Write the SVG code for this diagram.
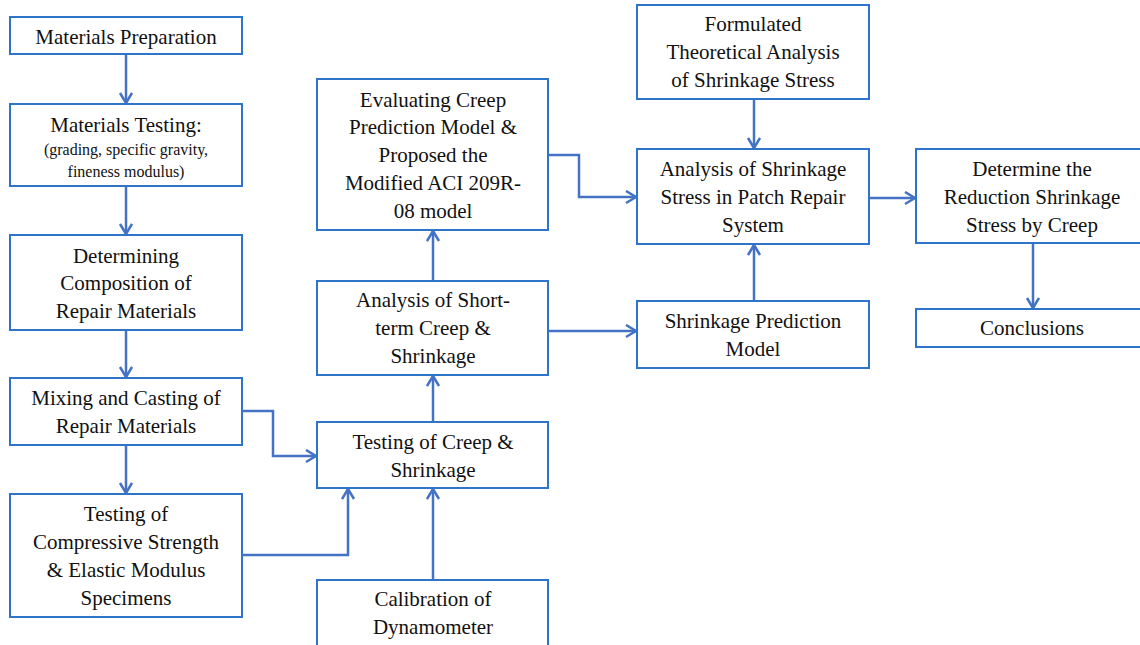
<svg xmlns="http://www.w3.org/2000/svg" width="1140" height="645" viewBox="0 0 1140 645">
<style>
.box{fill:#fff;stroke:#2E74C8;stroke-width:2}
text{font-family:'Liberation Serif','Times New Roman','DejaVu Serif',serif;fill:#111;text-anchor:middle}
.t{font-size:21px}
.s{font-size:16px}
.c{fill:none;stroke:#4472C4;stroke-width:2.5;marker-end:url(#ah)}
</style>
<defs>
<marker id="ah" markerUnits="userSpaceOnUse" markerWidth="14" markerHeight="16" refX="11" refY="7" orient="auto">
<path d="M1,1 L11,7 L1,13" fill="none" stroke="#4472C4" stroke-width="2.5"/>
</marker>
</defs>
<rect width="1140" height="645" fill="#fff"/>
<g id="connectors">
<path class="c" d="M126,54 V103"/>
<path class="c" d="M126,186 V234"/>
<path class="c" d="M126,330 V377"/>
<path class="c" d="M126,445 V493"/>
<path class="c" d="M242,411 H273 V456 H316"/>
<path class="c" d="M242,555 H348 V489"/>
<path class="c" d="M433,580 V489"/>
<path class="c" d="M433,422 V376"/>
<path class="c" d="M433,281 V231"/>
<path class="c" d="M548,155 H579 V197 H636"/>
<path class="c" d="M548,331 H636"/>
<path class="c" d="M754,99 V148"/>
<path class="c" d="M754,301 V245"/>
<path class="c" d="M869,198 H915"/>
<path class="c" d="M1033,243 V308"/>
</g>
<g id="n1"><rect class="box" x="10" y="17" width="232" height="37"/><text class="t" x="126" y="44">Materials Preparation</text></g>
<g id="n2"><rect class="box" x="10" y="104" width="232" height="82"/><text class="t" x="126" y="132">Materials Testing:</text><text class="s" x="126" y="155">(grading, specific gravity,</text><text class="s" x="126" y="177">fineness modulus)</text></g>
<g id="n3"><rect class="box" x="10" y="235" width="232" height="95"/><text class="t" x="126" y="263">Determining</text><text class="t" x="126" y="290">Composition of</text><text class="t" x="126" y="318">Repair Materials</text></g>
<g id="n4"><rect class="box" x="10" y="378" width="232" height="67"/><text class="t" x="126" y="405">Mixing and Casting of</text><text class="t" x="126" y="433">Repair Materials</text></g>
<g id="n5"><rect class="box" x="10" y="494" width="232" height="123"/><text class="t" x="126" y="521">Testing of</text><text class="t" x="126" y="549">Compressive Strength</text><text class="t" x="126" y="577">&amp; Elastic Modulus</text><text class="t" x="126" y="605">Specimens</text></g>
<g id="n6"><rect class="box" x="317" y="422" width="231" height="66"/><text class="t" x="433" y="449">Testing of Creep &amp;</text><text class="t" x="433" y="477">Shrinkage</text></g>
<g id="n7"><rect class="box" x="317" y="580" width="231" height="70"/><text class="t" x="433" y="606">Calibration of</text><text class="t" x="433" y="634">Dynamometer</text></g>
<g id="n8"><rect class="box" x="317" y="281" width="231" height="94"/><text class="t" x="433" y="307">Analysis of Short-</text><text class="t" x="433" y="335">term Creep &amp;</text><text class="t" x="433" y="363">Shrinkage</text></g>
<g id="n9"><rect class="box" x="317" y="79" width="231" height="151"/><text class="t" x="433" y="107">Evaluating Creep</text><text class="t" x="433" y="134">Prediction Model &amp;</text><text class="t" x="433" y="162">Proposed the</text><text class="t" x="433" y="190">Modified ACI 209R-</text><text class="t" x="433" y="218">08 model</text></g>
<g id="n10"><rect class="box" x="637" y="5" width="232" height="94"/><text class="t" x="753" y="31">Formulated</text><text class="t" x="753" y="59">Theoretical Analysis</text><text class="t" x="753" y="87">of Shrinkage Stress</text></g>
<g id="n11"><rect class="box" x="637" y="149" width="232" height="95"/><text class="t" x="753" y="176">Analysis of Shrinkage</text><text class="t" x="753" y="204">Stress in Patch Repair</text><text class="t" x="753" y="232">System</text></g>
<g id="n12"><rect class="box" x="637" y="301" width="232" height="67"/><text class="t" x="753" y="328">Shrinkage Prediction</text><text class="t" x="753" y="356">Model</text></g>
<g id="n13"><rect class="box" x="916" y="149" width="232" height="94"/><text class="t" x="1032" y="176">Determine the</text><text class="t" x="1032" y="204">Reduction Shrinkage</text><text class="t" x="1032" y="232">Stress by Creep</text></g>
<g id="n14"><rect class="box" x="916" y="309" width="232" height="38"/><text class="t" x="1032" y="335">Conclusions</text></g>
</svg>
